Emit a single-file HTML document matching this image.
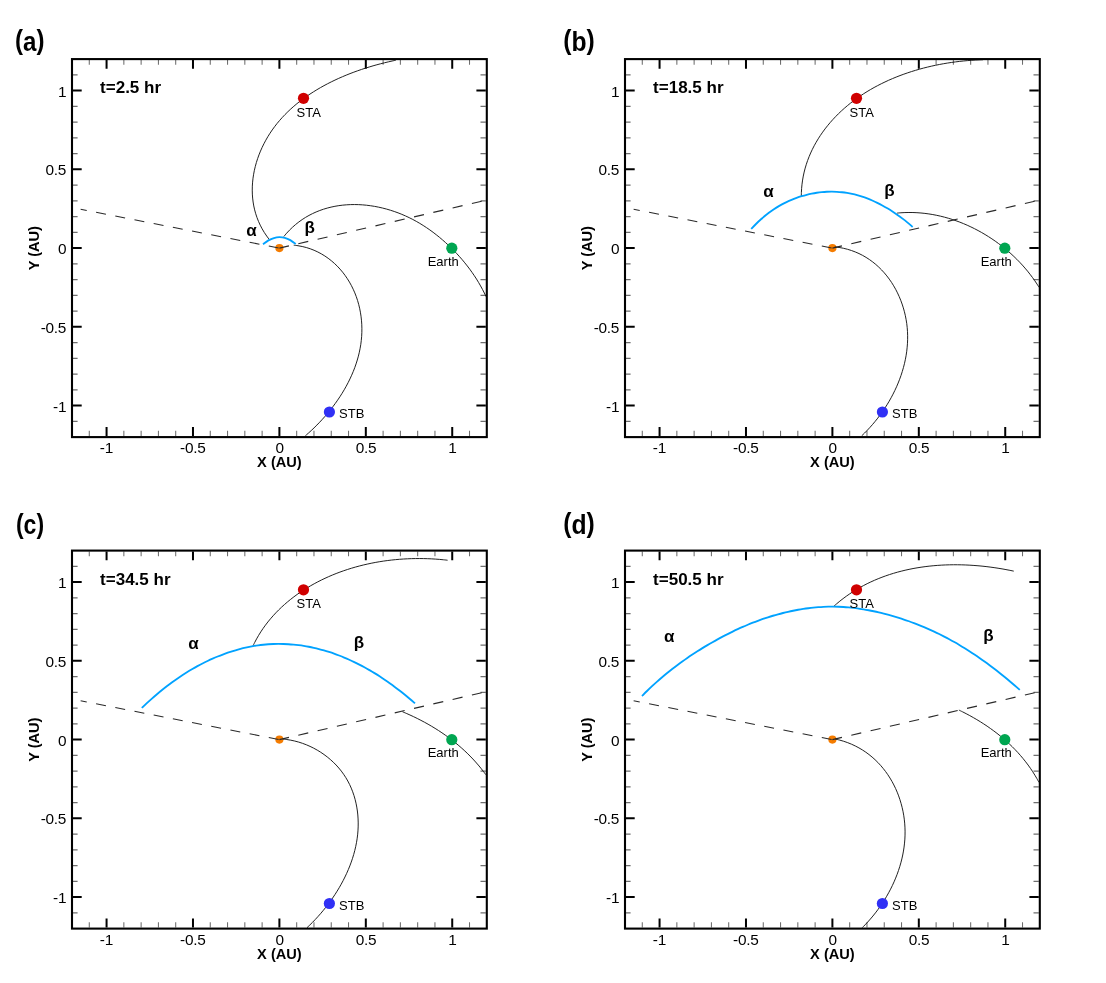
<!DOCTYPE html>
<html lang="en"><head><meta charset="utf-8"><title>Shock evolution</title>
<style>
html,body{margin:0;padding:0;background:#fff;}
body{width:1106px;height:983px;overflow:hidden;}
svg{display:block;will-change:transform;}
text{font-family:"Liberation Sans",sans-serif;fill:#000;}
.tk{font-size:15.4px;letter-spacing:-0.25px;}
.ax{font-size:14.6px;font-weight:bold;fill:#000;}
.tt{font-size:17px;font-weight:bold;fill:#000;}
.sc{font-size:13px;}
.gk{font-size:17px;font-weight:bold;fill:#000;}
.pl{font-size:28px;font-weight:bold;fill:#000;}
</style></head><body>
<svg width="1106" height="983" viewBox="0 0 1106 983">
<rect width="1106" height="983" fill="#fff"/>
<g transform="translate(0,0)">
<path d="M89.28 60.10 v4.6M89.28 436.10 v-5.3M73.00 421.35 h4.6M485.80 421.35 h-5.3M123.85 60.10 v4.6M123.85 436.10 v-5.3M73.00 389.85 h4.6M485.80 389.85 h-5.3M141.13 60.10 v4.6M141.13 436.10 v-5.3M73.00 374.10 h4.6M485.80 374.10 h-5.3M158.42 60.10 v4.6M158.42 436.10 v-5.3M73.00 358.35 h4.6M485.80 358.35 h-5.3M175.70 60.10 v4.6M175.70 436.10 v-5.3M73.00 342.60 h4.6M485.80 342.60 h-5.3M210.27 60.10 v4.6M210.27 436.10 v-5.3M73.00 311.10 h4.6M485.80 311.10 h-5.3M227.55 60.10 v4.6M227.55 436.10 v-5.3M73.00 295.35 h4.6M485.80 295.35 h-5.3M244.83 60.10 v4.6M244.83 436.10 v-5.3M73.00 279.60 h4.6M485.80 279.60 h-5.3M262.12 60.10 v4.6M262.12 436.10 v-5.3M73.00 263.85 h4.6M485.80 263.85 h-5.3M296.68 60.10 v4.6M296.68 436.10 v-5.3M73.00 232.35 h4.6M485.80 232.35 h-5.3M313.97 60.10 v4.6M313.97 436.10 v-5.3M73.00 216.60 h4.6M485.80 216.60 h-5.3M331.25 60.10 v4.6M331.25 436.10 v-5.3M73.00 200.85 h4.6M485.80 200.85 h-5.3M348.53 60.10 v4.6M348.53 436.10 v-5.3M73.00 185.10 h4.6M485.80 185.10 h-5.3M383.10 60.10 v4.6M383.10 436.10 v-5.3M73.00 153.60 h4.6M485.80 153.60 h-5.3M400.38 60.10 v4.6M400.38 436.10 v-5.3M73.00 137.85 h4.6M485.80 137.85 h-5.3M417.67 60.10 v4.6M417.67 436.10 v-5.3M73.00 122.10 h4.6M485.80 122.10 h-5.3M434.95 60.10 v4.6M434.95 436.10 v-5.3M73.00 106.35 h4.6M485.80 106.35 h-5.3M469.52 60.10 v4.6M469.52 436.10 v-5.3M73.00 74.85 h4.6M485.80 74.85 h-5.3" stroke="#6e6e6e" stroke-width="1.05" fill="none"/>
<path d="M106.57 60.10 v8.6M106.57 436.10 v-9.0M73.00 405.60 h8.7M485.80 405.60 h-9.4M192.98 60.10 v8.6M192.98 436.10 v-9.0M73.00 326.85 h8.7M485.80 326.85 h-9.4M279.40 60.10 v8.6M279.40 436.10 v-9.0M73.00 248.10 h8.7M485.80 248.10 h-9.4M365.82 60.10 v8.6M365.82 436.10 v-9.0M73.00 169.35 h8.7M485.80 169.35 h-9.4M452.23 60.10 v8.6M452.23 436.10 v-9.0M73.00 90.60 h8.7M485.80 90.60 h-9.4" stroke="#000" stroke-width="2" fill="none"/>
<circle cx="279.40" cy="248.10" r="4.1" fill="#f57c00"/>
<path d="M279.40 248.10 L80.64 209.28" stroke="#2a2a2a" stroke-width="1.15" stroke-dasharray="10 9.55" stroke-dashoffset="-0.8" fill="none"/>
<path d="M279.40 248.10 L481.70 201.20" stroke="#2a2a2a" stroke-width="1.15" stroke-dasharray="10.2 9.6" stroke-dashoffset="0.4" fill="none"/>
<path d="M395.87 60.21C395.24 60.34 393.37 60.73 392.11 61.01C390.86 61.28 389.60 61.57 388.34 61.86C387.07 62.16 385.81 62.46 384.54 62.77C383.27 63.08 382.00 63.41 380.72 63.74C379.45 64.07 378.17 64.41 376.90 64.76C375.62 65.11 374.34 65.47 373.06 65.84C371.78 66.21 370.49 66.59 369.21 66.99C367.93 67.38 366.65 67.78 365.36 68.19C364.08 68.60 362.80 69.02 361.52 69.45C360.24 69.88 358.96 70.32 357.68 70.78C356.40 71.23 355.12 71.69 353.85 72.17C352.57 72.64 351.30 73.12 350.03 73.62C348.76 74.11 347.49 74.62 346.23 75.14C344.97 75.65 343.71 76.18 342.45 76.72C341.19 77.26 339.94 77.81 338.70 78.37C337.45 78.93 336.20 79.51 334.97 80.09C333.73 80.67 332.50 81.27 331.27 81.88C330.05 82.48 328.83 83.10 327.61 83.73C326.40 84.36 325.19 85.00 323.99 85.66C322.79 86.31 321.60 86.97 320.42 87.65C319.23 88.33 318.06 89.02 316.89 89.72C315.72 90.42 314.56 91.13 313.41 91.86C312.26 92.59 311.12 93.32 309.99 94.07C308.86 94.83 307.74 95.59 306.63 96.36C305.51 97.14 304.41 97.93 303.32 98.73C302.23 99.53 301.16 100.34 300.09 101.17C299.02 101.99 297.97 102.83 296.92 103.68C295.88 104.54 294.85 105.40 293.83 106.28C292.82 107.16 291.81 108.05 290.82 108.95C289.83 109.86 288.85 110.78 287.89 111.71C286.93 112.64 285.98 113.58 285.04 114.54C284.11 115.50 283.19 116.47 282.29 117.46C281.39 118.44 280.50 119.44 279.63 120.45C278.75 121.47 277.90 122.49 277.06 123.53C276.22 124.58 275.40 125.63 274.59 126.70C273.79 127.77 273.00 128.85 272.23 129.95C271.46 131.05 270.71 132.16 269.98 133.28C269.25 134.41 268.53 135.55 267.84 136.70C267.14 137.86 266.47 139.02 265.82 140.20C265.16 141.38 264.53 142.57 263.91 143.77C263.30 144.97 262.71 146.18 262.14 147.40C261.57 148.62 261.02 149.86 260.49 151.10C259.97 152.34 259.46 153.59 258.98 154.85C258.51 156.10 258.05 157.37 257.62 158.64C257.18 159.92 256.77 161.20 256.39 162.49C256.01 163.77 255.65 165.07 255.32 166.37C254.98 167.66 254.68 168.97 254.39 170.28C254.11 171.59 253.86 172.90 253.63 174.21C253.40 175.53 253.20 176.85 253.03 178.17C252.86 179.49 252.71 180.82 252.60 182.14C252.48 183.47 252.40 184.80 252.34 186.12C252.28 187.45 252.25 188.78 252.26 190.11C252.26 191.44 252.29 192.76 252.35 194.09C252.42 195.42 252.51 196.74 252.64 198.06C252.76 199.38 252.92 200.70 253.11 202.02C253.30 203.34 253.52 204.65 253.78 205.96C254.04 207.27 254.33 208.57 254.65 209.87C254.97 211.17 255.33 212.47 255.72 213.75C256.11 215.04 256.54 216.32 257.00 217.60C257.47 218.87 257.96 220.14 258.50 221.40C259.03 222.66 259.60 223.91 260.21 225.15C260.82 226.40 261.47 227.63 262.15 228.85C262.83 230.08 263.55 231.29 264.31 232.49C265.07 233.69 265.87 234.89 266.71 236.06C267.55 237.24 268.90 238.98 269.34 239.57" stroke="#151515" stroke-width="0.95" fill="none"/>
<path d="M283.84 236.53C284.30 235.98 285.68 234.30 286.63 233.23C287.58 232.16 288.55 231.13 289.53 230.12C290.52 229.12 291.52 228.15 292.54 227.21C293.56 226.27 294.60 225.36 295.65 224.48C296.70 223.60 297.77 222.76 298.86 221.94C299.94 221.13 301.04 220.35 302.15 219.59C303.26 218.84 304.39 218.12 305.53 217.42C306.66 216.73 307.82 216.07 308.98 215.43C310.15 214.80 311.32 214.20 312.51 213.62C313.70 213.05 314.90 212.50 316.11 211.98C317.32 211.46 318.54 210.97 319.77 210.51C321.00 210.05 322.24 209.62 323.49 209.21C324.73 208.81 325.99 208.43 327.26 208.08C328.52 207.73 329.79 207.41 331.07 207.11C332.35 206.81 333.64 206.54 334.93 206.30C336.23 206.05 337.53 205.84 338.83 205.64C340.13 205.45 341.44 205.29 342.76 205.15C344.07 205.00 345.39 204.89 346.71 204.80C348.03 204.71 349.35 204.64 350.68 204.60C352.01 204.56 353.34 204.54 354.67 204.55C356.00 204.56 357.34 204.59 358.67 204.64C360.00 204.69 361.34 204.77 362.67 204.87C364.01 204.97 365.34 205.10 366.68 205.24C368.01 205.39 369.34 205.56 370.67 205.75C372.00 205.94 373.33 206.15 374.66 206.39C375.99 206.62 377.31 206.88 378.63 207.16C379.95 207.43 381.27 207.73 382.58 208.05C383.89 208.37 385.20 208.71 386.50 209.07C387.80 209.43 389.10 209.81 390.39 210.21C391.68 210.61 392.97 211.03 394.24 211.47C395.52 211.91 396.79 212.37 398.05 212.85C399.31 213.32 400.57 213.82 401.81 214.34C403.06 214.85 404.30 215.38 405.52 215.94C406.75 216.49 407.97 217.06 409.17 217.64C410.38 218.23 411.58 218.83 412.77 219.45C413.95 220.07 415.13 220.71 416.30 221.36C417.47 222.02 418.63 222.69 419.78 223.37C420.93 224.06 422.07 224.76 423.20 225.47C424.33 226.19 425.45 226.92 426.56 227.67C427.67 228.41 428.77 229.17 429.86 229.94C430.95 230.72 432.03 231.51 433.10 232.31C434.17 233.11 435.23 233.92 436.28 234.75C437.34 235.57 438.38 236.41 439.41 237.27C440.44 238.12 441.46 238.98 442.47 239.86C443.49 240.73 444.49 241.62 445.48 242.52C446.47 243.41 447.46 244.32 448.43 245.24C449.40 246.16 450.36 247.09 451.32 248.03C452.27 248.97 453.21 249.92 454.14 250.88C455.08 251.83 456.00 252.80 456.91 253.78C457.82 254.76 458.72 255.75 459.61 256.74C460.50 257.74 461.38 258.75 462.25 259.76C463.11 260.78 463.97 261.81 464.81 262.84C465.65 263.88 466.48 264.92 467.30 265.97C468.12 267.03 468.93 268.09 469.72 269.16C470.51 270.24 471.29 271.32 472.06 272.41C472.83 273.50 473.58 274.60 474.32 275.71C475.06 276.82 475.79 277.93 476.50 279.06C477.21 280.19 477.91 281.32 478.59 282.47C479.27 283.62 479.94 284.77 480.59 285.93C481.25 287.10 481.89 288.27 482.51 289.45C483.13 290.63 483.74 291.82 484.33 293.02C484.92 294.22 485.77 296.03 486.06 296.64" stroke="#151515" stroke-width="0.95" fill="none"/>
<path d="M293.72 245.20C294.44 245.29 296.61 245.51 298.02 245.72C299.44 245.94 300.83 246.20 302.21 246.50C303.59 246.80 304.95 247.14 306.29 247.52C307.62 247.90 308.94 248.32 310.24 248.78C311.54 249.24 312.82 249.73 314.08 250.27C315.34 250.80 316.58 251.37 317.79 251.97C319.01 252.57 320.20 253.21 321.38 253.88C322.55 254.54 323.70 255.25 324.83 255.98C325.96 256.71 327.07 257.48 328.15 258.27C329.23 259.06 330.30 259.89 331.33 260.74C332.37 261.59 333.38 262.47 334.37 263.37C335.36 264.28 336.33 265.21 337.27 266.16C338.21 267.12 339.12 268.10 340.02 269.10C340.91 270.10 341.77 271.12 342.61 272.17C343.45 273.21 344.26 274.28 345.05 275.37C345.84 276.45 346.60 277.56 347.33 278.68C348.07 279.80 348.78 280.94 349.46 282.10C350.14 283.26 350.79 284.43 351.41 285.61C352.04 286.80 352.63 288.00 353.20 289.22C353.77 290.43 354.31 291.66 354.82 292.89C355.33 294.13 355.81 295.38 356.27 296.64C356.72 297.90 357.15 299.17 357.55 300.45C357.95 301.73 358.32 303.02 358.66 304.31C359.01 305.61 359.32 306.91 359.61 308.22C359.90 309.53 360.16 310.85 360.39 312.17C360.63 313.49 360.83 314.82 361.01 316.15C361.19 317.48 361.34 318.82 361.46 320.16C361.59 321.50 361.69 322.84 361.76 324.18C361.83 325.52 361.87 326.87 361.89 328.21C361.90 329.56 361.89 330.90 361.85 332.25C361.82 333.59 361.75 334.93 361.66 336.27C361.57 337.61 361.45 338.95 361.31 340.29C361.17 341.62 361.00 342.96 360.80 344.29C360.61 345.61 360.39 346.94 360.14 348.26C359.90 349.58 359.63 350.90 359.33 352.21C359.04 353.52 358.72 354.83 358.38 356.13C358.04 357.43 357.68 358.73 357.29 360.02C356.91 361.31 356.50 362.60 356.07 363.88C355.64 365.16 355.19 366.44 354.72 367.71C354.25 368.98 353.75 370.24 353.24 371.50C352.73 372.75 352.20 374.00 351.65 375.24C351.10 376.49 350.53 377.72 349.94 378.95C349.36 380.18 348.75 381.40 348.13 382.61C347.50 383.83 346.86 385.03 346.21 386.23C345.55 387.43 344.88 388.62 344.19 389.80C343.50 390.98 342.80 392.15 342.08 393.31C341.36 394.47 340.63 395.63 339.88 396.77C339.13 397.92 338.37 399.05 337.59 400.18C336.82 401.30 336.03 402.42 335.23 403.52C334.43 404.63 333.62 405.72 332.79 406.81C331.97 407.89 331.13 408.97 330.29 410.03C329.44 411.09 328.58 412.14 327.71 413.18C326.85 414.22 325.97 415.25 325.08 416.27C324.20 417.29 323.30 418.29 322.40 419.28C321.50 420.28 320.58 421.26 319.66 422.22C318.75 423.19 317.82 424.15 316.89 425.09C315.95 426.03 315.01 426.96 314.07 427.88C313.12 428.79 312.17 429.69 311.21 430.58C310.26 431.47 309.30 432.34 308.33 433.20C307.37 434.06 305.91 435.32 305.42 435.74" stroke="#151515" stroke-width="0.95" fill="none"/>
<path d="M263.00 244.34C263.91 243.68 266.63 241.47 268.45 240.42C270.27 239.37 272.08 238.56 273.90 238.02C275.72 237.47 277.53 237.18 279.35 237.15C281.17 237.12 282.98 237.34 284.80 237.83C286.62 238.32 288.43 239.07 290.25 240.09C292.07 241.10 294.79 243.29 295.70 243.94" stroke="#00a2ff" stroke-width="1.85" fill="none" stroke-linecap="butt"/>
<circle cx="303.50" cy="98.30" r="5.6" fill="#d00000"/>
<circle cx="451.80" cy="248.20" r="5.6" fill="#00a651"/>
<circle cx="329.40" cy="412.00" r="5.6" fill="#3030f5"/>
<rect x="72.00" y="59.10" width="414.80" height="378.00" fill="none" stroke="#000" stroke-width="2.1"/>
<text class="tk" x="106.37" y="453.0" text-anchor="middle">-1</text>
<text class="tk" x="66.2" y="411.50" text-anchor="end">-1</text>
<text class="tk" x="192.78" y="453.0" text-anchor="middle">-0.5</text>
<text class="tk" x="66.2" y="332.75" text-anchor="end">-0.5</text>
<text class="tk" x="279.60" y="453.0" text-anchor="middle">0</text>
<text class="tk" x="66.2" y="254.00" text-anchor="end">0</text>
<text class="tk" x="366.02" y="453.0" text-anchor="middle">0.5</text>
<text class="tk" x="66.2" y="175.25" text-anchor="end">0.5</text>
<text class="tk" x="452.43" y="453.0" text-anchor="middle">1</text>
<text class="tk" x="66.2" y="96.50" text-anchor="end">1</text>
<text class="ax" x="279.40" y="467.1" text-anchor="middle">X (AU)</text>
<text class="ax" transform="translate(38.9,248.20) rotate(-90)" text-anchor="middle">Y (AU)</text>
<text class="tt" x="100.1" y="93.1">t=2.5 hr</text>
<text class="sc" x="296.6" y="116.8">STA</text>
<text class="sc" x="427.7" y="265.9">Earth</text>
<text class="sc" x="339.1" y="418.1">STB</text>
<text class="gk" x="246.30" y="236.00">α</text>
<text class="gk" x="304.60" y="233.20">β</text>
<text class="pl" transform="translate(15.00,50.60) scale(0.861,1)"><tspan dy="-1.5">(</tspan><tspan dy="1.5">a</tspan><tspan dy="-1.5">)</tspan></text>
</g>
<g transform="translate(553,0)">
<path d="M89.28 60.10 v4.6M89.28 436.10 v-5.3M73.00 421.35 h4.6M485.80 421.35 h-5.3M123.85 60.10 v4.6M123.85 436.10 v-5.3M73.00 389.85 h4.6M485.80 389.85 h-5.3M141.13 60.10 v4.6M141.13 436.10 v-5.3M73.00 374.10 h4.6M485.80 374.10 h-5.3M158.42 60.10 v4.6M158.42 436.10 v-5.3M73.00 358.35 h4.6M485.80 358.35 h-5.3M175.70 60.10 v4.6M175.70 436.10 v-5.3M73.00 342.60 h4.6M485.80 342.60 h-5.3M210.27 60.10 v4.6M210.27 436.10 v-5.3M73.00 311.10 h4.6M485.80 311.10 h-5.3M227.55 60.10 v4.6M227.55 436.10 v-5.3M73.00 295.35 h4.6M485.80 295.35 h-5.3M244.83 60.10 v4.6M244.83 436.10 v-5.3M73.00 279.60 h4.6M485.80 279.60 h-5.3M262.12 60.10 v4.6M262.12 436.10 v-5.3M73.00 263.85 h4.6M485.80 263.85 h-5.3M296.68 60.10 v4.6M296.68 436.10 v-5.3M73.00 232.35 h4.6M485.80 232.35 h-5.3M313.97 60.10 v4.6M313.97 436.10 v-5.3M73.00 216.60 h4.6M485.80 216.60 h-5.3M331.25 60.10 v4.6M331.25 436.10 v-5.3M73.00 200.85 h4.6M485.80 200.85 h-5.3M348.53 60.10 v4.6M348.53 436.10 v-5.3M73.00 185.10 h4.6M485.80 185.10 h-5.3M383.10 60.10 v4.6M383.10 436.10 v-5.3M73.00 153.60 h4.6M485.80 153.60 h-5.3M400.38 60.10 v4.6M400.38 436.10 v-5.3M73.00 137.85 h4.6M485.80 137.85 h-5.3M417.67 60.10 v4.6M417.67 436.10 v-5.3M73.00 122.10 h4.6M485.80 122.10 h-5.3M434.95 60.10 v4.6M434.95 436.10 v-5.3M73.00 106.35 h4.6M485.80 106.35 h-5.3M469.52 60.10 v4.6M469.52 436.10 v-5.3M73.00 74.85 h4.6M485.80 74.85 h-5.3" stroke="#6e6e6e" stroke-width="1.05" fill="none"/>
<path d="M106.57 60.10 v8.6M106.57 436.10 v-9.0M73.00 405.60 h8.7M485.80 405.60 h-9.4M192.98 60.10 v8.6M192.98 436.10 v-9.0M73.00 326.85 h8.7M485.80 326.85 h-9.4M279.40 60.10 v8.6M279.40 436.10 v-9.0M73.00 248.10 h8.7M485.80 248.10 h-9.4M365.82 60.10 v8.6M365.82 436.10 v-9.0M73.00 169.35 h8.7M485.80 169.35 h-9.4M452.23 60.10 v8.6M452.23 436.10 v-9.0M73.00 90.60 h8.7M485.80 90.60 h-9.4" stroke="#000" stroke-width="2" fill="none"/>
<circle cx="279.40" cy="248.10" r="4.1" fill="#f57c00"/>
<path d="M279.40 248.10 L80.64 209.28" stroke="#2a2a2a" stroke-width="1.15" stroke-dasharray="10 9.55" stroke-dashoffset="-0.8" fill="none"/>
<path d="M279.40 248.10 L481.70 201.20" stroke="#2a2a2a" stroke-width="1.15" stroke-dasharray="10.2 9.6" stroke-dashoffset="0.4" fill="none"/>
<path d="M429.97 59.77C429.32 59.79 427.38 59.85 426.07 59.90C424.77 59.95 423.46 60.01 422.15 60.08C420.84 60.16 419.53 60.24 418.22 60.33C416.90 60.42 415.58 60.52 414.26 60.64C412.94 60.75 411.62 60.87 410.29 61.00C408.97 61.13 407.64 61.28 406.31 61.43C404.98 61.58 403.65 61.75 402.32 61.92C400.99 62.09 399.66 62.28 398.33 62.47C397.00 62.66 395.66 62.87 394.33 63.08C393.00 63.30 391.66 63.52 390.33 63.76C389.00 64.00 387.67 64.24 386.33 64.50C385.00 64.76 383.67 65.03 382.34 65.31C381.01 65.59 379.68 65.88 378.36 66.18C377.03 66.48 375.70 66.79 374.38 67.12C373.05 67.44 371.73 67.78 370.41 68.12C369.09 68.47 367.78 68.83 366.46 69.19C365.15 69.56 363.84 69.94 362.53 70.33C361.22 70.73 359.91 71.13 358.61 71.54C357.31 71.96 356.01 72.38 354.72 72.82C353.43 73.26 352.14 73.71 350.85 74.17C349.57 74.63 348.29 75.10 347.01 75.58C345.74 76.07 344.46 76.56 343.20 77.07C341.93 77.58 340.67 78.10 339.42 78.63C338.17 79.16 336.92 79.71 335.67 80.26C334.43 80.82 333.20 81.39 331.97 81.97C330.74 82.55 329.51 83.14 328.30 83.74C327.08 84.35 325.87 84.97 324.67 85.60C323.47 86.23 322.28 86.87 321.09 87.52C319.91 88.18 318.73 88.84 317.56 89.52C316.39 90.20 315.23 90.90 314.08 91.60C312.92 92.31 311.78 93.02 310.64 93.76C309.51 94.49 308.38 95.23 307.27 95.99C306.15 96.74 305.05 97.51 303.95 98.30C302.85 99.08 301.77 99.87 300.69 100.68C299.61 101.49 298.55 102.31 297.49 103.15C296.44 103.98 295.40 104.83 294.36 105.69C293.33 106.56 292.31 107.43 291.30 108.32C290.29 109.21 289.29 110.11 288.31 111.03C287.32 111.94 286.35 112.87 285.39 113.81C284.43 114.76 283.48 115.71 282.55 116.68C281.62 117.65 280.70 118.63 279.79 119.62C278.89 120.61 278.00 121.62 277.12 122.64C276.25 123.65 275.38 124.69 274.54 125.73C273.70 126.77 272.87 127.83 272.06 128.89C271.24 129.96 270.45 131.04 269.67 132.13C268.89 133.22 268.13 134.32 267.39 135.43C266.64 136.55 265.92 137.67 265.21 138.81C264.51 139.95 263.82 141.09 263.15 142.25C262.48 143.41 261.83 144.58 261.20 145.76C260.57 146.94 259.96 148.13 259.37 149.33C258.79 150.53 258.22 151.75 257.67 152.97C257.13 154.19 256.60 155.43 256.10 156.67C255.59 157.91 255.11 159.17 254.65 160.43C254.20 161.69 253.76 162.96 253.35 164.25C252.94 165.53 252.55 166.82 252.18 168.12C251.82 169.43 251.48 170.74 251.16 172.06C250.85 173.38 250.56 174.71 250.29 176.05C250.03 177.39 249.79 178.73 249.58 180.09C249.36 181.45 249.18 182.81 249.02 184.19C248.86 185.56 248.72 186.94 248.62 188.33C248.51 189.72 248.44 191.12 248.39 192.53C248.34 193.94 248.33 196.07 248.32 196.78" stroke="#151515" stroke-width="0.95" fill="none"/>
<path d="M343.90 213.13C344.57 213.07 346.57 212.87 347.91 212.78C349.25 212.69 350.59 212.62 351.93 212.57C353.27 212.52 354.61 212.49 355.94 212.49C357.28 212.48 358.61 212.49 359.95 212.53C361.28 212.57 362.62 212.62 363.95 212.70C365.28 212.77 366.61 212.87 367.94 212.99C369.26 213.10 370.59 213.24 371.91 213.40C373.24 213.55 374.56 213.73 375.88 213.93C377.19 214.12 378.51 214.34 379.82 214.57C381.13 214.80 382.44 215.06 383.75 215.33C385.05 215.60 386.36 215.89 387.65 216.20C388.95 216.51 390.25 216.83 391.54 217.18C392.83 217.52 394.11 217.88 395.40 218.26C396.68 218.64 397.95 219.04 399.23 219.45C400.50 219.87 401.76 220.30 403.03 220.75C404.29 221.19 405.54 221.66 406.79 222.14C408.04 222.62 409.29 223.12 410.53 223.63C411.77 224.15 413.00 224.68 414.23 225.22C415.45 225.77 416.67 226.33 417.89 226.91C419.10 227.48 420.31 228.08 421.51 228.68C422.71 229.29 423.90 229.91 425.08 230.55C426.27 231.18 427.44 231.83 428.61 232.50C429.78 233.17 430.94 233.85 432.10 234.54C433.25 235.23 434.40 235.94 435.53 236.66C436.67 237.38 437.80 238.12 438.91 238.87C440.03 239.62 441.14 240.38 442.24 241.15C443.34 241.93 444.43 242.72 445.51 243.52C446.59 244.32 447.66 245.14 448.72 245.96C449.78 246.79 450.83 247.63 451.87 248.48C452.91 249.33 453.94 250.20 454.96 251.07C455.97 251.95 456.98 252.84 457.97 253.74C458.97 254.64 459.95 255.55 460.92 256.47C461.89 257.40 462.85 258.33 463.80 259.28C464.75 260.22 465.68 261.18 466.60 262.15C467.52 263.12 468.43 264.09 469.33 265.08C470.23 266.07 471.11 267.07 471.98 268.08C472.85 269.09 473.70 270.11 474.55 271.14C475.39 272.18 476.22 273.22 477.03 274.27C477.84 275.32 478.64 276.38 479.43 277.45C480.21 278.52 480.98 279.60 481.74 280.68C482.49 281.77 483.23 282.87 483.96 283.98C484.68 285.08 485.73 286.76 486.08 287.32" stroke="#151515" stroke-width="0.95" fill="none"/>
<path d="M281.73 246.88C282.45 246.97 284.65 247.22 286.08 247.44C287.51 247.67 288.92 247.94 290.31 248.24C291.70 248.55 293.07 248.89 294.42 249.26C295.77 249.64 297.10 250.05 298.41 250.50C299.72 250.94 301.01 251.42 302.27 251.94C303.54 252.45 304.79 253.00 306.01 253.57C307.24 254.15 308.45 254.76 309.63 255.40C310.81 256.04 311.98 256.71 313.12 257.41C314.26 258.11 315.38 258.84 316.48 259.59C317.58 260.35 318.65 261.13 319.71 261.94C320.76 262.75 321.79 263.59 322.80 264.45C323.81 265.31 324.80 266.20 325.77 267.11C326.73 268.02 327.67 268.96 328.59 269.91C329.51 270.87 330.41 271.85 331.29 272.85C332.16 273.85 333.01 274.87 333.84 275.91C334.67 276.95 335.47 278.02 336.25 279.10C337.03 280.17 337.79 281.27 338.52 282.39C339.26 283.50 339.97 284.64 340.65 285.79C341.34 286.93 342.00 288.10 342.64 289.28C343.27 290.46 343.89 291.65 344.48 292.86C345.06 294.06 345.63 295.29 346.17 296.52C346.71 297.75 347.22 298.99 347.71 300.25C348.20 301.50 348.66 302.77 349.10 304.04C349.54 305.32 349.95 306.60 350.34 307.89C350.73 309.19 351.09 310.49 351.43 311.79C351.76 313.10 352.07 314.41 352.36 315.73C352.64 317.05 352.90 318.38 353.13 319.70C353.37 321.03 353.57 322.36 353.75 323.70C353.93 325.03 354.08 326.37 354.21 327.71C354.33 329.05 354.43 330.39 354.50 331.73C354.58 333.07 354.62 334.41 354.64 335.76C354.66 337.10 354.65 338.44 354.62 339.78C354.59 341.12 354.53 342.46 354.45 343.80C354.36 345.14 354.26 346.48 354.12 347.81C353.99 349.15 353.84 350.48 353.66 351.81C353.48 353.14 353.28 354.47 353.05 355.80C352.82 357.13 352.58 358.45 352.30 359.77C352.03 361.09 351.74 362.41 351.43 363.72C351.11 365.03 350.77 366.34 350.42 367.64C350.06 368.95 349.68 370.25 349.28 371.54C348.88 372.84 348.46 374.12 348.02 375.41C347.58 376.69 347.12 377.97 346.65 379.24C346.17 380.51 345.67 381.77 345.16 383.03C344.64 384.29 344.10 385.54 343.55 386.78C343.00 388.03 342.43 389.26 341.84 390.49C341.26 391.72 340.65 392.94 340.03 394.15C339.41 395.36 338.77 396.57 338.12 397.76C337.46 398.95 336.79 400.14 336.11 401.31C335.42 402.49 334.72 403.65 334.00 404.80C333.29 405.96 332.56 407.10 331.81 408.24C331.07 409.37 330.31 410.49 329.54 411.60C328.77 412.71 327.98 413.81 327.18 414.90C326.38 415.99 325.57 417.07 324.75 418.13C323.93 419.19 323.09 420.24 322.24 421.28C321.39 422.32 320.54 423.34 319.67 424.35C318.80 425.36 317.91 426.36 317.02 427.34C316.13 428.32 315.23 429.29 314.32 430.24C313.41 431.20 312.48 432.14 311.55 433.06C310.62 433.98 309.21 435.33 308.74 435.78" stroke="#151515" stroke-width="0.95" fill="none"/>
<path d="M198.19 228.92C199.03 228.05 201.55 225.37 203.24 223.72C204.92 222.07 206.60 220.51 208.28 219.02C209.96 217.53 211.64 216.13 213.32 214.79C215.01 213.46 216.69 212.20 218.37 211.01C220.05 209.82 221.73 208.70 223.41 207.65C225.10 206.59 226.78 205.61 228.46 204.68C230.14 203.75 231.82 202.89 233.50 202.08C235.19 201.27 236.87 200.52 238.55 199.82C240.23 199.11 241.91 198.47 243.59 197.86C245.28 197.26 246.96 196.71 248.64 196.19C250.32 195.68 252.00 195.21 253.69 194.79C255.37 194.36 257.05 193.98 258.73 193.64C260.41 193.30 262.09 193.00 263.77 192.74C265.46 192.49 267.14 192.28 268.82 192.11C270.50 191.94 272.18 191.82 273.87 191.74C275.55 191.66 277.23 191.62 278.91 191.63C280.59 191.64 282.27 191.70 283.95 191.80C285.64 191.89 287.32 192.04 289.00 192.22C290.68 192.41 292.36 192.64 294.05 192.92C295.73 193.20 297.41 193.52 299.09 193.89C300.77 194.26 302.45 194.67 304.13 195.13C305.82 195.59 307.50 196.09 309.18 196.64C310.86 197.19 312.54 197.79 314.23 198.43C315.91 199.07 317.59 199.76 319.27 200.49C320.95 201.23 322.63 202.00 324.31 202.83C326.00 203.65 327.68 204.52 329.36 205.44C331.04 206.35 332.72 207.31 334.40 208.32C336.09 209.33 337.77 210.38 339.45 211.48C341.13 212.58 342.81 213.72 344.50 214.91C346.18 216.10 347.86 217.34 349.54 218.63C351.22 219.91 352.90 221.25 354.59 222.63C356.27 224.01 358.79 226.21 359.63 226.92" stroke="#00a2ff" stroke-width="1.85" fill="none" stroke-linecap="butt"/>
<circle cx="303.50" cy="98.30" r="5.6" fill="#d00000"/>
<circle cx="451.80" cy="248.20" r="5.6" fill="#00a651"/>
<circle cx="329.40" cy="412.00" r="5.6" fill="#3030f5"/>
<rect x="72.00" y="59.10" width="414.80" height="378.00" fill="none" stroke="#000" stroke-width="2.1"/>
<text class="tk" x="106.37" y="453.0" text-anchor="middle">-1</text>
<text class="tk" x="66.2" y="411.50" text-anchor="end">-1</text>
<text class="tk" x="192.78" y="453.0" text-anchor="middle">-0.5</text>
<text class="tk" x="66.2" y="332.75" text-anchor="end">-0.5</text>
<text class="tk" x="279.60" y="453.0" text-anchor="middle">0</text>
<text class="tk" x="66.2" y="254.00" text-anchor="end">0</text>
<text class="tk" x="366.02" y="453.0" text-anchor="middle">0.5</text>
<text class="tk" x="66.2" y="175.25" text-anchor="end">0.5</text>
<text class="tk" x="452.43" y="453.0" text-anchor="middle">1</text>
<text class="tk" x="66.2" y="96.50" text-anchor="end">1</text>
<text class="ax" x="279.40" y="467.1" text-anchor="middle">X (AU)</text>
<text class="ax" transform="translate(38.9,248.20) rotate(-90)" text-anchor="middle">Y (AU)</text>
<text class="tt" x="100.1" y="93.1">t=18.5 hr</text>
<text class="sc" x="296.6" y="116.8">STA</text>
<text class="sc" x="427.7" y="265.9">Earth</text>
<text class="sc" x="339.1" y="418.1">STB</text>
<text class="gk" x="210.35" y="196.80">α</text>
<text class="gk" x="331.30" y="196.40">β</text>
<text class="pl" transform="translate(10.20,50.60) scale(0.882,1)"><tspan dy="-1.5">(</tspan><tspan dy="1.5">b</tspan><tspan dy="-1.5">)</tspan></text>
</g>
<g transform="translate(0,491.5)">
<path d="M89.28 60.10 v4.6M89.28 436.10 v-5.3M73.00 421.35 h4.6M485.80 421.35 h-5.3M123.85 60.10 v4.6M123.85 436.10 v-5.3M73.00 389.85 h4.6M485.80 389.85 h-5.3M141.13 60.10 v4.6M141.13 436.10 v-5.3M73.00 374.10 h4.6M485.80 374.10 h-5.3M158.42 60.10 v4.6M158.42 436.10 v-5.3M73.00 358.35 h4.6M485.80 358.35 h-5.3M175.70 60.10 v4.6M175.70 436.10 v-5.3M73.00 342.60 h4.6M485.80 342.60 h-5.3M210.27 60.10 v4.6M210.27 436.10 v-5.3M73.00 311.10 h4.6M485.80 311.10 h-5.3M227.55 60.10 v4.6M227.55 436.10 v-5.3M73.00 295.35 h4.6M485.80 295.35 h-5.3M244.83 60.10 v4.6M244.83 436.10 v-5.3M73.00 279.60 h4.6M485.80 279.60 h-5.3M262.12 60.10 v4.6M262.12 436.10 v-5.3M73.00 263.85 h4.6M485.80 263.85 h-5.3M296.68 60.10 v4.6M296.68 436.10 v-5.3M73.00 232.35 h4.6M485.80 232.35 h-5.3M313.97 60.10 v4.6M313.97 436.10 v-5.3M73.00 216.60 h4.6M485.80 216.60 h-5.3M331.25 60.10 v4.6M331.25 436.10 v-5.3M73.00 200.85 h4.6M485.80 200.85 h-5.3M348.53 60.10 v4.6M348.53 436.10 v-5.3M73.00 185.10 h4.6M485.80 185.10 h-5.3M383.10 60.10 v4.6M383.10 436.10 v-5.3M73.00 153.60 h4.6M485.80 153.60 h-5.3M400.38 60.10 v4.6M400.38 436.10 v-5.3M73.00 137.85 h4.6M485.80 137.85 h-5.3M417.67 60.10 v4.6M417.67 436.10 v-5.3M73.00 122.10 h4.6M485.80 122.10 h-5.3M434.95 60.10 v4.6M434.95 436.10 v-5.3M73.00 106.35 h4.6M485.80 106.35 h-5.3M469.52 60.10 v4.6M469.52 436.10 v-5.3M73.00 74.85 h4.6M485.80 74.85 h-5.3" stroke="#6e6e6e" stroke-width="1.05" fill="none"/>
<path d="M106.57 60.10 v8.6M106.57 436.10 v-9.0M73.00 405.60 h8.7M485.80 405.60 h-9.4M192.98 60.10 v8.6M192.98 436.10 v-9.0M73.00 326.85 h8.7M485.80 326.85 h-9.4M279.40 60.10 v8.6M279.40 436.10 v-9.0M73.00 248.10 h8.7M485.80 248.10 h-9.4M365.82 60.10 v8.6M365.82 436.10 v-9.0M73.00 169.35 h8.7M485.80 169.35 h-9.4M452.23 60.10 v8.6M452.23 436.10 v-9.0M73.00 90.60 h8.7M485.80 90.60 h-9.4" stroke="#000" stroke-width="2" fill="none"/>
<circle cx="279.40" cy="248.10" r="4.1" fill="#f57c00"/>
<path d="M279.40 248.10 L80.64 209.28" stroke="#2a2a2a" stroke-width="1.15" stroke-dasharray="10 9.55" stroke-dashoffset="-0.8" fill="none"/>
<path d="M279.40 248.10 L481.70 201.20" stroke="#2a2a2a" stroke-width="1.15" stroke-dasharray="10.2 9.6" stroke-dashoffset="0.4" fill="none"/>
<path d="M447.57 68.72C446.91 68.65 444.94 68.42 443.63 68.29C442.31 68.16 440.99 68.03 439.67 67.92C438.34 67.81 437.02 67.71 435.69 67.62C434.36 67.52 433.03 67.44 431.69 67.37C430.36 67.30 429.02 67.24 427.69 67.20C426.35 67.15 425.01 67.11 423.67 67.08C422.32 67.06 420.98 67.04 419.64 67.04C418.29 67.03 416.94 67.04 415.60 67.06C414.25 67.08 412.90 67.10 411.55 67.14C410.20 67.18 408.85 67.23 407.50 67.30C406.15 67.36 404.80 67.43 403.45 67.52C402.10 67.60 400.75 67.70 399.40 67.80C398.05 67.91 396.70 68.03 395.35 68.16C394.00 68.29 392.65 68.43 391.30 68.59C389.95 68.74 388.61 68.90 387.26 69.08C385.92 69.26 384.57 69.44 383.23 69.64C381.89 69.84 380.54 70.06 379.21 70.28C377.87 70.50 376.53 70.74 375.19 70.98C373.86 71.23 372.53 71.49 371.20 71.76C369.86 72.03 368.54 72.31 367.21 72.61C365.89 72.90 364.57 73.21 363.25 73.53C361.93 73.85 360.61 74.18 359.30 74.52C357.99 74.86 356.68 75.22 355.38 75.59C354.07 75.95 352.77 76.33 351.48 76.73C350.18 77.12 348.89 77.52 347.60 77.94C346.32 78.36 345.03 78.78 343.76 79.23C342.48 79.67 341.20 80.12 339.94 80.59C338.67 81.05 337.41 81.53 336.15 82.03C334.89 82.52 333.64 83.02 332.40 83.54C331.15 84.06 329.91 84.59 328.68 85.13C327.45 85.67 326.22 86.23 325.00 86.80C323.78 87.36 322.57 87.95 321.36 88.54C320.15 89.13 318.95 89.74 317.76 90.36C316.57 90.98 315.38 91.62 314.21 92.26C313.03 92.91 311.86 93.57 310.70 94.24C309.53 94.91 308.38 95.60 307.23 96.30C306.09 97.00 304.95 97.71 303.82 98.44C302.69 99.16 301.57 99.90 300.46 100.65C299.35 101.41 298.24 102.17 297.15 102.95C296.06 103.73 294.98 104.52 293.90 105.33C292.83 106.14 291.77 106.96 290.72 107.79C289.67 108.62 288.63 109.47 287.60 110.33C286.57 111.19 285.55 112.07 284.55 112.96C283.54 113.85 282.55 114.75 281.57 115.66C280.59 116.58 279.62 117.51 278.67 118.45C277.71 119.40 276.77 120.36 275.85 121.33C274.92 122.30 274.01 123.29 273.11 124.29C272.21 125.29 271.33 126.30 270.46 127.33C269.59 128.36 268.74 129.40 267.90 130.45C267.06 131.51 266.24 132.58 265.44 133.67C264.63 134.75 263.84 135.85 263.07 136.96C262.30 138.08 261.54 139.20 260.81 140.35C260.07 141.49 259.35 142.65 258.65 143.82C257.95 144.99 257.26 146.17 256.60 147.37C255.94 148.57 255.29 149.79 254.66 151.02C254.04 152.25 253.15 154.13 252.84 154.75" stroke="#151515" stroke-width="0.95" fill="none"/>
<path d="M402.48 220.25C403.10 220.51 404.98 221.30 406.22 221.84C407.47 222.37 408.71 222.92 409.94 223.49C411.18 224.05 412.41 224.62 413.63 225.20C414.86 225.78 416.08 226.38 417.29 226.98C418.51 227.58 419.72 228.20 420.92 228.83C422.13 229.45 423.33 230.09 424.52 230.74C425.71 231.38 426.90 232.04 428.08 232.71C429.26 233.38 430.43 234.06 431.60 234.76C432.77 235.45 433.93 236.15 435.08 236.87C436.23 237.58 437.38 238.31 438.52 239.04C439.66 239.78 440.79 240.53 441.91 241.29C443.04 242.05 444.15 242.82 445.26 243.60C446.37 244.38 447.46 245.17 448.55 245.98C449.64 246.78 450.73 247.60 451.80 248.42C452.87 249.25 453.93 250.09 454.99 250.94C456.04 251.79 457.09 252.65 458.12 253.52C459.16 254.40 460.18 255.28 461.19 256.18C462.21 257.07 463.21 257.98 464.21 258.90C465.20 259.82 466.19 260.75 467.16 261.69C468.13 262.63 469.09 263.59 470.04 264.55C470.99 265.52 471.93 266.50 472.86 267.49C473.79 268.47 474.70 269.48 475.60 270.49C476.51 271.50 477.40 272.53 478.28 273.56C479.16 274.60 480.02 275.65 480.88 276.71C481.73 277.77 482.57 278.84 483.40 279.92C484.23 281.01 485.43 282.66 485.84 283.21" stroke="#151515" stroke-width="0.95" fill="none"/>
<path d="M282.73 247.58C283.41 247.66 285.43 247.84 286.77 248.03C288.11 248.21 289.45 248.43 290.78 248.68C292.11 248.93 293.43 249.22 294.75 249.54C296.06 249.86 297.37 250.21 298.67 250.59C299.96 250.98 301.25 251.39 302.53 251.84C303.80 252.28 305.07 252.76 306.32 253.27C307.57 253.78 308.82 254.31 310.04 254.88C311.27 255.45 312.48 256.04 313.68 256.66C314.88 257.29 316.06 257.94 317.23 258.62C318.39 259.30 319.54 260.00 320.67 260.73C321.80 261.46 322.92 262.22 324.01 263.00C325.10 263.79 326.18 264.59 327.23 265.43C328.29 266.26 329.32 267.11 330.33 267.99C331.34 268.87 332.33 269.77 333.29 270.70C334.26 271.62 335.20 272.57 336.11 273.53C337.03 274.50 337.92 275.49 338.79 276.50C339.65 277.51 340.49 278.54 341.30 279.59C342.11 280.63 342.89 281.70 343.64 282.79C344.39 283.87 345.12 284.98 345.81 286.10C346.50 287.22 347.17 288.36 347.80 289.51C348.43 290.67 349.03 291.84 349.61 293.02C350.18 294.20 350.72 295.40 351.24 296.62C351.75 297.83 352.23 299.05 352.69 300.29C353.14 301.52 353.57 302.77 353.97 304.03C354.37 305.29 354.73 306.55 355.08 307.83C355.42 309.11 355.73 310.39 356.01 311.68C356.30 312.98 356.55 314.28 356.78 315.58C357.01 316.89 357.21 318.20 357.38 319.51C357.56 320.83 357.70 322.15 357.82 323.47C357.94 324.79 358.03 326.12 358.09 327.45C358.16 328.77 358.20 330.10 358.21 331.43C358.22 332.76 358.20 334.09 358.16 335.42C358.12 336.75 358.05 338.07 357.96 339.40C357.87 340.72 357.75 342.05 357.61 343.37C357.47 344.69 357.30 346.01 357.11 347.32C356.92 348.64 356.70 349.95 356.46 351.26C356.22 352.57 355.96 353.88 355.68 355.18C355.39 356.48 355.09 357.78 354.76 359.08C354.43 360.37 354.08 361.67 353.71 362.95C353.34 364.24 352.95 365.52 352.54 366.80C352.13 368.07 351.69 369.35 351.24 370.61C350.79 371.88 350.32 373.14 349.83 374.39C349.34 375.65 348.84 376.90 348.31 378.14C347.79 379.38 347.24 380.62 346.68 381.84C346.12 383.07 345.54 384.30 344.95 385.51C344.36 386.72 343.75 387.93 343.12 389.13C342.50 390.33 341.85 391.52 341.20 392.70C340.54 393.89 339.87 395.06 339.19 396.23C338.50 397.39 337.80 398.55 337.09 399.70C336.38 400.84 335.65 401.98 334.92 403.11C334.18 404.24 333.43 405.36 332.66 406.47C331.90 407.57 331.13 408.67 330.34 409.76C329.56 410.85 328.76 411.93 327.95 412.99C327.15 414.06 326.33 415.11 325.50 416.15C324.68 417.20 323.84 418.23 323.00 419.25C322.15 420.27 321.30 421.27 320.44 422.27C319.58 423.26 318.71 424.25 317.83 425.21C316.95 426.18 316.07 427.14 315.18 428.08C314.29 429.02 313.39 429.95 312.49 430.87C311.59 431.78 310.68 432.68 309.76 433.57C308.85 434.46 307.47 435.75 307.01 436.19" stroke="#151515" stroke-width="0.95" fill="none"/>
<path d="M141.79 216.44C142.63 215.64 145.16 213.21 146.85 211.65C148.54 210.09 150.22 208.57 151.91 207.08C153.60 205.59 155.28 204.13 156.97 202.71C158.65 201.29 160.34 199.90 162.03 198.54C163.71 197.18 165.40 195.86 167.09 194.56C168.77 193.27 170.46 192.01 172.15 190.77C173.83 189.54 175.52 188.34 177.21 187.18C178.89 186.01 180.58 184.87 182.27 183.77C183.95 182.66 185.64 181.59 187.32 180.54C189.01 179.50 190.70 178.49 192.38 177.50C194.07 176.52 195.76 175.57 197.44 174.65C199.13 173.73 200.82 172.83 202.50 171.97C204.19 171.11 205.88 170.28 207.56 169.47C209.25 168.67 210.94 167.89 212.62 167.15C214.31 166.40 216.00 165.68 217.68 164.99C219.37 164.30 221.05 163.64 222.74 163.01C224.43 162.37 226.11 161.77 227.80 161.19C229.49 160.61 231.17 160.06 232.86 159.53C234.55 159.01 236.23 158.51 237.92 158.04C239.61 157.58 241.29 157.14 242.98 156.72C244.67 156.31 246.35 155.93 248.04 155.58C249.72 155.23 251.41 154.91 253.10 154.61C254.78 154.32 256.47 154.06 258.16 153.83C259.84 153.59 261.53 153.39 263.22 153.22C264.90 153.04 266.59 152.89 268.28 152.78C269.96 152.66 271.65 152.57 273.34 152.51C275.02 152.45 276.71 152.42 278.39 152.41C280.08 152.41 281.77 152.43 283.45 152.48C285.14 152.53 286.83 152.60 288.51 152.71C290.20 152.81 291.89 152.95 293.57 153.11C295.26 153.26 296.95 153.45 298.63 153.66C300.32 153.88 302.01 154.12 303.69 154.39C305.38 154.66 307.07 154.95 308.75 155.27C310.44 155.60 312.12 155.95 313.81 156.32C315.50 156.70 317.18 157.10 318.87 157.53C320.56 157.97 322.24 158.42 323.93 158.91C325.62 159.39 327.30 159.91 328.99 160.45C330.68 160.99 332.36 161.55 334.05 162.15C335.74 162.74 337.42 163.36 339.11 164.01C340.79 164.66 342.48 165.33 344.17 166.04C345.85 166.74 347.54 167.47 349.23 168.23C350.91 168.99 352.60 169.77 354.29 170.58C355.97 171.40 357.66 172.24 359.35 173.10C361.03 173.97 362.72 174.87 364.41 175.79C366.09 176.71 367.78 177.66 369.47 178.64C371.15 179.62 372.84 180.62 374.52 181.66C376.21 182.69 377.90 183.75 379.58 184.84C381.27 185.93 382.96 187.05 384.64 188.19C386.33 189.34 388.02 190.51 389.70 191.71C391.39 192.91 393.08 194.14 394.76 195.40C396.45 196.66 398.14 197.94 399.82 199.26C401.51 200.57 403.19 201.92 404.88 203.29C406.57 204.66 408.25 206.06 409.94 207.49C411.63 208.93 414.16 211.14 415.00 211.87" stroke="#00a2ff" stroke-width="1.85" fill="none" stroke-linecap="butt"/>
<circle cx="303.50" cy="98.30" r="5.6" fill="#d00000"/>
<circle cx="451.80" cy="248.20" r="5.6" fill="#00a651"/>
<circle cx="329.40" cy="412.00" r="5.6" fill="#3030f5"/>
<rect x="72.00" y="59.10" width="414.80" height="378.00" fill="none" stroke="#000" stroke-width="2.1"/>
<text class="tk" x="106.37" y="453.0" text-anchor="middle">-1</text>
<text class="tk" x="66.2" y="411.50" text-anchor="end">-1</text>
<text class="tk" x="192.78" y="453.0" text-anchor="middle">-0.5</text>
<text class="tk" x="66.2" y="332.75" text-anchor="end">-0.5</text>
<text class="tk" x="279.60" y="453.0" text-anchor="middle">0</text>
<text class="tk" x="66.2" y="254.00" text-anchor="end">0</text>
<text class="tk" x="366.02" y="453.0" text-anchor="middle">0.5</text>
<text class="tk" x="66.2" y="175.25" text-anchor="end">0.5</text>
<text class="tk" x="452.43" y="453.0" text-anchor="middle">1</text>
<text class="tk" x="66.2" y="96.50" text-anchor="end">1</text>
<text class="ax" x="279.40" y="467.1" text-anchor="middle">X (AU)</text>
<text class="ax" transform="translate(38.9,248.20) rotate(-90)" text-anchor="middle">Y (AU)</text>
<text class="tt" x="100.1" y="93.1">t=34.5 hr</text>
<text class="sc" x="296.6" y="116.8">STA</text>
<text class="sc" x="427.7" y="265.9">Earth</text>
<text class="sc" x="339.1" y="418.1">STB</text>
<text class="gk" x="188.25" y="157.20">α</text>
<text class="gk" x="353.70" y="156.70">β</text>
<text class="pl" transform="translate(15.90,42.50) scale(0.823,1)"><tspan dy="-1.5">(</tspan><tspan dy="1.5">c</tspan><tspan dy="-1.5">)</tspan></text>
</g>
<g transform="translate(553,491.5)">
<path d="M89.28 60.10 v4.6M89.28 436.10 v-5.3M73.00 421.35 h4.6M485.80 421.35 h-5.3M123.85 60.10 v4.6M123.85 436.10 v-5.3M73.00 389.85 h4.6M485.80 389.85 h-5.3M141.13 60.10 v4.6M141.13 436.10 v-5.3M73.00 374.10 h4.6M485.80 374.10 h-5.3M158.42 60.10 v4.6M158.42 436.10 v-5.3M73.00 358.35 h4.6M485.80 358.35 h-5.3M175.70 60.10 v4.6M175.70 436.10 v-5.3M73.00 342.60 h4.6M485.80 342.60 h-5.3M210.27 60.10 v4.6M210.27 436.10 v-5.3M73.00 311.10 h4.6M485.80 311.10 h-5.3M227.55 60.10 v4.6M227.55 436.10 v-5.3M73.00 295.35 h4.6M485.80 295.35 h-5.3M244.83 60.10 v4.6M244.83 436.10 v-5.3M73.00 279.60 h4.6M485.80 279.60 h-5.3M262.12 60.10 v4.6M262.12 436.10 v-5.3M73.00 263.85 h4.6M485.80 263.85 h-5.3M296.68 60.10 v4.6M296.68 436.10 v-5.3M73.00 232.35 h4.6M485.80 232.35 h-5.3M313.97 60.10 v4.6M313.97 436.10 v-5.3M73.00 216.60 h4.6M485.80 216.60 h-5.3M331.25 60.10 v4.6M331.25 436.10 v-5.3M73.00 200.85 h4.6M485.80 200.85 h-5.3M348.53 60.10 v4.6M348.53 436.10 v-5.3M73.00 185.10 h4.6M485.80 185.10 h-5.3M383.10 60.10 v4.6M383.10 436.10 v-5.3M73.00 153.60 h4.6M485.80 153.60 h-5.3M400.38 60.10 v4.6M400.38 436.10 v-5.3M73.00 137.85 h4.6M485.80 137.85 h-5.3M417.67 60.10 v4.6M417.67 436.10 v-5.3M73.00 122.10 h4.6M485.80 122.10 h-5.3M434.95 60.10 v4.6M434.95 436.10 v-5.3M73.00 106.35 h4.6M485.80 106.35 h-5.3M469.52 60.10 v4.6M469.52 436.10 v-5.3M73.00 74.85 h4.6M485.80 74.85 h-5.3" stroke="#6e6e6e" stroke-width="1.05" fill="none"/>
<path d="M106.57 60.10 v8.6M106.57 436.10 v-9.0M73.00 405.60 h8.7M485.80 405.60 h-9.4M192.98 60.10 v8.6M192.98 436.10 v-9.0M73.00 326.85 h8.7M485.80 326.85 h-9.4M279.40 60.10 v8.6M279.40 436.10 v-9.0M73.00 248.10 h8.7M485.80 248.10 h-9.4M365.82 60.10 v8.6M365.82 436.10 v-9.0M73.00 169.35 h8.7M485.80 169.35 h-9.4M452.23 60.10 v8.6M452.23 436.10 v-9.0M73.00 90.60 h8.7M485.80 90.60 h-9.4" stroke="#000" stroke-width="2" fill="none"/>
<circle cx="279.40" cy="248.10" r="4.1" fill="#f57c00"/>
<path d="M279.40 248.10 L80.64 209.28" stroke="#2a2a2a" stroke-width="1.15" stroke-dasharray="10 9.55" stroke-dashoffset="-0.8" fill="none"/>
<path d="M279.40 248.10 L481.70 201.20" stroke="#2a2a2a" stroke-width="1.15" stroke-dasharray="10.2 9.6" stroke-dashoffset="0.4" fill="none"/>
<path d="M460.76 79.64C460.12 79.51 458.18 79.10 456.88 78.84C455.58 78.57 454.27 78.32 452.97 78.08C451.66 77.83 450.34 77.60 449.03 77.37C447.71 77.15 446.39 76.93 445.07 76.72C443.74 76.51 442.42 76.31 441.09 76.11C439.76 75.92 438.42 75.74 437.09 75.57C435.75 75.39 434.41 75.23 433.07 75.07C431.73 74.92 430.38 74.77 429.04 74.64C427.69 74.50 426.34 74.37 424.99 74.26C423.64 74.14 422.29 74.03 420.93 73.94C419.58 73.84 418.22 73.75 416.87 73.68C415.51 73.60 414.15 73.53 412.79 73.48C411.44 73.42 410.08 73.38 408.71 73.34C407.35 73.31 405.99 73.28 404.63 73.27C403.27 73.26 401.91 73.25 400.55 73.26C399.19 73.27 397.83 73.29 396.46 73.32C395.10 73.35 393.74 73.40 392.38 73.45C391.02 73.50 389.66 73.57 388.31 73.65C386.95 73.72 385.59 73.81 384.23 73.91C382.88 74.01 381.52 74.13 380.17 74.25C378.82 74.38 377.47 74.51 376.12 74.66C374.77 74.81 373.42 74.97 372.08 75.15C370.73 75.32 369.39 75.51 368.05 75.71C366.71 75.91 365.37 76.12 364.04 76.35C362.70 76.57 361.37 76.81 360.04 77.06C358.72 77.31 357.39 77.58 356.07 77.86C354.75 78.13 353.43 78.43 352.12 78.73C350.80 79.04 349.49 79.35 348.19 79.69C346.88 80.02 345.58 80.37 344.28 80.73C342.99 81.09 341.69 81.46 340.41 81.85C339.12 82.24 337.84 82.64 336.56 83.06C335.28 83.48 334.01 83.91 332.74 84.35C331.48 84.80 330.21 85.26 328.96 85.74C327.70 86.21 326.45 86.70 325.21 87.21C323.97 87.72 322.73 88.24 321.50 88.77C320.27 89.31 319.04 89.86 317.83 90.43C316.61 90.99 315.40 91.58 314.19 92.17C312.99 92.77 311.79 93.39 310.61 94.02C309.42 94.65 308.24 95.29 307.06 95.95C305.89 96.62 304.72 97.29 303.56 97.99C302.41 98.68 301.26 99.39 300.11 100.12C298.97 100.85 297.84 101.59 296.72 102.35C295.59 103.11 294.48 103.89 293.37 104.68C292.26 105.48 291.17 106.29 290.08 107.12C288.99 107.94 287.91 108.79 286.84 109.65C285.77 110.52 284.71 111.40 283.66 112.29C282.61 113.19 281.07 114.58 280.55 115.04" stroke="#151515" stroke-width="0.95" fill="none"/>
<path d="M405.92 218.57C406.52 218.87 408.35 219.74 409.56 220.34C410.77 220.95 411.98 221.56 413.17 222.18C414.37 222.81 415.57 223.44 416.76 224.09C417.95 224.74 419.13 225.40 420.31 226.07C421.49 226.74 422.66 227.42 423.82 228.11C424.99 228.81 426.15 229.51 427.30 230.23C428.45 230.94 429.59 231.67 430.73 232.41C431.86 233.15 432.99 233.90 434.11 234.66C435.23 235.43 436.35 236.20 437.45 236.99C438.55 237.77 439.65 238.57 440.74 239.38C441.82 240.19 442.90 241.01 443.97 241.84C445.04 242.67 446.10 243.51 447.14 244.37C448.19 245.23 449.23 246.09 450.26 246.97C451.29 247.85 452.31 248.74 453.31 249.64C454.32 250.55 455.31 251.46 456.30 252.38C457.28 253.31 458.26 254.25 459.22 255.20C460.18 256.15 461.13 257.11 462.06 258.08C463.00 259.05 463.92 260.04 464.83 261.03C465.74 262.03 466.64 263.04 467.53 264.06C468.41 265.08 469.28 266.11 470.14 267.15C471.00 268.20 471.84 269.25 472.67 270.32C473.50 271.39 474.32 272.47 475.12 273.56C475.92 274.65 476.70 275.76 477.47 276.87C478.24 277.99 479.00 279.11 479.74 280.25C480.47 281.39 481.20 282.54 481.90 283.71C482.61 284.87 483.30 286.04 483.98 287.23C484.65 288.42 485.62 290.23 485.95 290.83" stroke="#151515" stroke-width="0.95" fill="none"/>
<path d="M282.34 247.56C283.05 247.72 285.19 248.20 286.59 248.57C287.98 248.93 289.35 249.34 290.71 249.77C292.06 250.20 293.39 250.66 294.70 251.16C296.01 251.65 297.30 252.17 298.57 252.73C299.84 253.28 301.09 253.86 302.31 254.47C303.54 255.08 304.74 255.71 305.93 256.38C307.11 257.04 308.27 257.73 309.41 258.44C310.55 259.16 311.67 259.90 312.77 260.67C313.86 261.43 314.94 262.23 315.99 263.04C317.05 263.85 318.08 264.69 319.09 265.55C320.10 266.41 321.08 267.29 322.05 268.20C323.02 269.10 323.96 270.03 324.88 270.97C325.80 271.92 326.70 272.89 327.57 273.87C328.45 274.86 329.30 275.86 330.13 276.89C330.96 277.91 331.77 278.95 332.56 280.01C333.34 281.07 334.10 282.14 334.84 283.23C335.58 284.32 336.30 285.43 336.99 286.56C337.68 287.68 338.35 288.82 339.00 289.97C339.65 291.12 340.27 292.29 340.87 293.46C341.47 294.64 342.05 295.83 342.60 297.04C343.15 298.24 343.68 299.46 344.19 300.68C344.69 301.91 345.18 303.14 345.63 304.39C346.09 305.64 346.53 306.89 346.93 308.16C347.34 309.42 347.73 310.69 348.09 311.97C348.45 313.26 348.79 314.54 349.10 315.84C349.42 317.13 349.71 318.43 349.97 319.74C350.23 321.05 350.47 322.36 350.69 323.68C350.90 324.99 351.09 326.31 351.26 327.64C351.42 328.96 351.56 330.29 351.68 331.62C351.80 332.95 351.89 334.28 351.95 335.61C352.02 336.94 352.06 338.28 352.07 339.61C352.09 340.95 352.08 342.28 352.04 343.61C352.01 344.95 351.94 346.28 351.86 347.61C351.78 348.94 351.67 350.28 351.53 351.60C351.40 352.93 351.25 354.26 351.07 355.58C350.89 356.91 350.69 358.23 350.46 359.55C350.24 360.87 349.99 362.19 349.72 363.50C349.45 364.81 349.16 366.12 348.85 367.43C348.54 368.73 348.20 370.03 347.85 371.33C347.49 372.63 347.12 373.92 346.72 375.20C346.33 376.49 345.91 377.77 345.48 379.05C345.04 380.32 344.59 381.59 344.12 382.86C343.64 384.12 343.15 385.38 342.64 386.62C342.13 387.87 341.60 389.12 341.05 390.35C340.51 391.59 339.94 392.81 339.36 394.03C338.78 395.25 338.18 396.46 337.57 397.66C336.95 398.87 336.32 400.06 335.67 401.24C335.03 402.43 334.36 403.60 333.68 404.77C333.00 405.93 332.31 407.08 331.60 408.23C330.89 409.37 330.17 410.51 329.43 411.63C328.69 412.75 327.94 413.86 327.17 414.96C326.41 416.06 325.63 417.15 324.84 418.22C324.04 419.30 323.24 420.36 322.42 421.41C321.60 422.46 320.77 423.50 319.93 424.52C319.09 425.55 318.23 426.56 317.37 427.55C316.50 428.55 315.63 429.53 314.74 430.50C313.85 431.46 312.96 432.42 312.05 433.35C311.14 434.29 309.76 435.66 309.30 436.12" stroke="#151515" stroke-width="0.95" fill="none"/>
<path d="M88.99 204.52C89.83 203.68 92.35 201.12 94.03 199.48C95.71 197.84 97.39 196.25 99.06 194.69C100.74 193.13 102.42 191.61 104.10 190.12C105.78 188.63 107.46 187.18 109.14 185.76C110.82 184.33 112.50 182.95 114.18 181.58C115.86 180.22 117.53 178.89 119.21 177.58C120.89 176.27 122.57 175.00 124.25 173.74C125.93 172.49 127.61 171.26 129.29 170.06C130.97 168.85 132.65 167.67 134.32 166.51C136.00 165.35 137.68 164.22 139.36 163.10C141.04 161.99 142.72 160.89 144.40 159.82C146.08 158.75 147.76 157.69 149.44 156.66C151.12 155.63 152.79 154.61 154.47 153.62C156.15 152.62 157.83 151.65 159.51 150.69C161.19 149.73 162.87 148.79 164.55 147.87C166.23 146.95 167.91 146.04 169.59 145.16C171.26 144.27 172.94 143.40 174.62 142.55C176.30 141.70 177.98 140.87 179.66 140.06C181.34 139.25 183.02 138.45 184.70 137.68C186.38 136.90 188.05 136.14 189.73 135.40C191.41 134.66 193.09 133.95 194.77 133.25C196.45 132.55 198.13 131.87 199.81 131.21C201.49 130.55 203.17 129.91 204.85 129.29C206.52 128.67 208.20 128.07 209.88 127.49C211.56 126.91 213.24 126.35 214.92 125.81C216.60 125.27 218.28 124.75 219.96 124.26C221.64 123.76 223.32 123.28 224.99 122.82C226.67 122.36 228.35 121.92 230.03 121.50C231.71 121.08 233.39 120.68 235.07 120.30C236.75 119.92 238.43 119.56 240.11 119.22C241.79 118.88 243.46 118.56 245.14 118.26C246.82 117.96 248.50 117.68 250.18 117.42C251.86 117.17 253.54 116.93 255.22 116.71C256.90 116.50 258.58 116.30 260.25 116.13C261.93 115.96 263.61 115.81 265.29 115.68C266.97 115.56 268.65 115.45 270.33 115.37C272.01 115.29 273.69 115.23 275.37 115.20C277.05 115.17 278.72 115.16 280.40 115.17C282.08 115.19 283.76 115.23 285.44 115.29C287.12 115.35 288.80 115.44 290.48 115.54C292.16 115.65 293.84 115.78 295.52 115.93C297.19 116.08 298.87 116.25 300.55 116.45C302.23 116.64 303.91 116.86 305.59 117.09C307.27 117.33 308.95 117.58 310.63 117.86C312.31 118.13 313.98 118.43 315.66 118.74C317.34 119.05 319.02 119.39 320.70 119.74C322.38 120.09 324.06 120.46 325.74 120.85C327.42 121.24 329.10 121.65 330.78 122.07C332.45 122.50 334.13 122.94 335.81 123.40C337.49 123.86 339.17 124.34 340.85 124.84C342.53 125.33 344.21 125.84 345.89 126.37C347.57 126.90 349.25 127.45 350.92 128.01C352.60 128.57 354.28 129.16 355.96 129.75C357.64 130.35 359.32 130.97 361.00 131.61C362.68 132.24 364.36 132.89 366.04 133.57C367.72 134.24 369.39 134.93 371.07 135.64C372.75 136.35 374.43 137.08 376.11 137.82C377.79 138.57 379.47 139.34 381.15 140.12C382.83 140.91 384.51 141.72 386.18 142.54C387.86 143.37 389.54 144.22 391.22 145.08C392.90 145.95 394.58 146.84 396.26 147.75C397.94 148.66 399.62 149.59 401.30 150.54C402.98 151.49 404.65 152.46 406.33 153.45C408.01 154.45 409.69 155.46 411.37 156.50C413.05 157.54 414.73 158.59 416.41 159.67C418.09 160.75 419.77 161.85 421.45 162.98C423.12 164.10 424.80 165.24 426.48 166.41C428.16 167.57 429.84 168.76 431.52 169.97C433.20 171.18 434.88 172.41 436.56 173.66C438.24 174.91 439.91 176.18 441.59 177.47C443.27 178.76 444.95 180.08 446.63 181.41C448.31 182.75 449.99 184.10 451.67 185.48C453.35 186.86 455.03 188.25 456.71 189.67C458.38 191.09 460.06 192.53 461.74 193.99C463.42 195.45 465.94 197.69 466.78 198.43" stroke="#00a2ff" stroke-width="1.85" fill="none" stroke-linecap="butt"/>
<circle cx="303.50" cy="98.30" r="5.6" fill="#d00000"/>
<circle cx="451.80" cy="248.20" r="5.6" fill="#00a651"/>
<circle cx="329.40" cy="412.00" r="5.6" fill="#3030f5"/>
<rect x="72.00" y="59.10" width="414.80" height="378.00" fill="none" stroke="#000" stroke-width="2.1"/>
<text class="tk" x="106.37" y="453.0" text-anchor="middle">-1</text>
<text class="tk" x="66.2" y="411.50" text-anchor="end">-1</text>
<text class="tk" x="192.78" y="453.0" text-anchor="middle">-0.5</text>
<text class="tk" x="66.2" y="332.75" text-anchor="end">-0.5</text>
<text class="tk" x="279.60" y="453.0" text-anchor="middle">0</text>
<text class="tk" x="66.2" y="254.00" text-anchor="end">0</text>
<text class="tk" x="366.02" y="453.0" text-anchor="middle">0.5</text>
<text class="tk" x="66.2" y="175.25" text-anchor="end">0.5</text>
<text class="tk" x="452.43" y="453.0" text-anchor="middle">1</text>
<text class="tk" x="66.2" y="96.50" text-anchor="end">1</text>
<text class="ax" x="279.40" y="467.1" text-anchor="middle">X (AU)</text>
<text class="ax" transform="translate(38.9,248.20) rotate(-90)" text-anchor="middle">Y (AU)</text>
<text class="tt" x="100.1" y="93.1">t=50.5 hr</text>
<text class="sc" x="296.6" y="116.8">STA</text>
<text class="sc" x="427.7" y="265.9">Earth</text>
<text class="sc" x="339.1" y="418.1">STB</text>
<text class="gk" x="110.95" y="150.10">α</text>
<text class="gk" x="430.30" y="149.70">β</text>
<text class="pl" transform="translate(10.20,42.30) scale(0.882,1)"><tspan dy="-1.5">(</tspan><tspan dy="1.5">d</tspan><tspan dy="-1.5">)</tspan></text>
</g>
</svg>
</body></html>
